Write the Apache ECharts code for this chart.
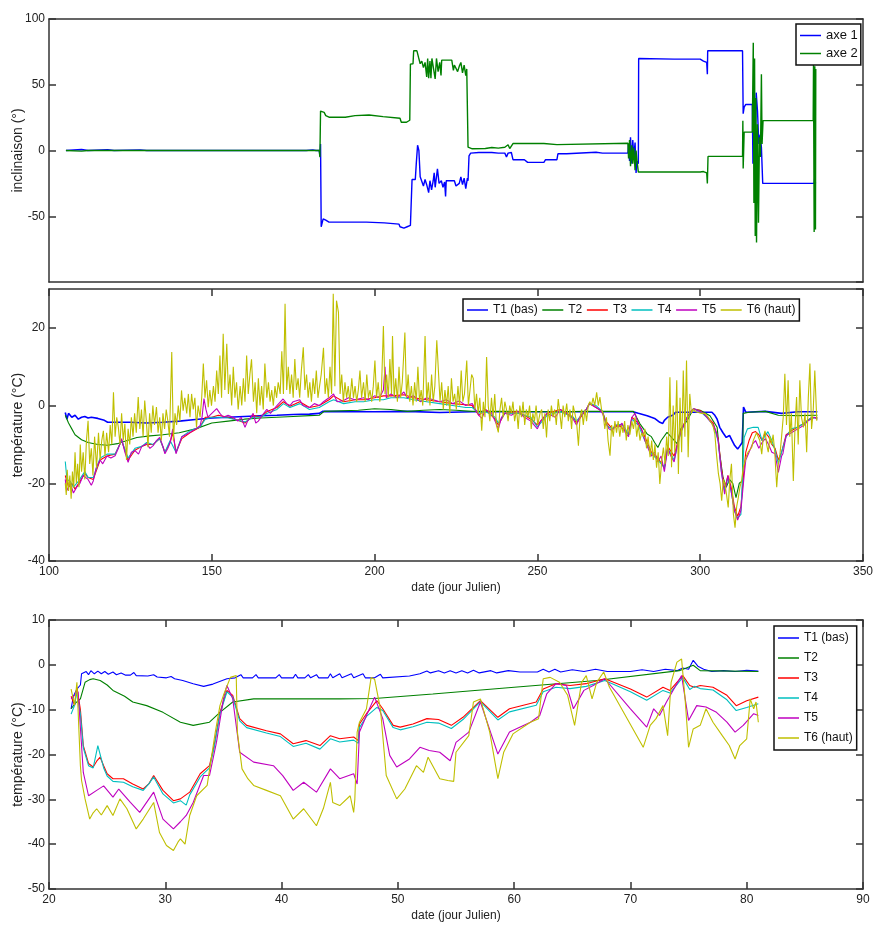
<!DOCTYPE html>
<html><head><meta charset="utf-8">
<script src="https://cdn.jsdelivr.net/npm/echarts@6/dist/echarts.min.js"></script>
<style>html,body{margin:0;padding:0;background:#fff}#c{width:874px;height:927px}</style>
</head><body><div id="c"></div>
<script>
// ---------- Panel 1 : inclinaison ----------
var axe1 = [[105.2,0],[110,0.8],[112,0],[118,0.6],[120,0],[128,0.5],[130,0],[160,0],[178,0],[178.5,0.8],[179,0],[181,0.5],[182,0],[183,0],[183.2,-4],[183.4,5],[183.6,-58],[184.2,-52],[185,-53],[186,-54.5],[197.5,-54.5],[197.6,-55],[203,-55],[203.1,-56],[207.5,-56],[207.8,-58],[209,-59],[210,-58],[211,-57],[211.4,-57],[211.5,-22],[212.5,-22],[212.8,-10],[213.2,4],[213.6,0],[214,-20],[215,-27],[215.5,-22],[216,-26],[216.6,-32],[217,-23],[217.5,-30],[218,-23],[218.3,-17],[218.6,-28],[219.3,-14],[219.8,-25],[220.5,-23],[221,-28],[221.5,-24],[221.8,-35],[222,-23],[224.5,-23],[225,-27],[225.5,-28],[226,-25],[226.5,-20],[227,-26],[227.5,-21],[228,-29],[228.5,-21],[228.7,-23],[229,-4],[229.5,-2],[230,-3],[232,-1.5],[236,-1.5],[238,-2],[240,-2],[240.5,-5],[241,-2],[242,-1.5],[242.5,-7],[246,-7],[247,-9],[252,-9],[252.5,-7],[256,-7],[256.3,-2.5],[259,-2.5],[259.4,-1.3],[268,-1.3],[270,-2],[277.8,-2],[278,5],[278.3,-8],[278.6,10],[279,-10],[279.3,8],[279.6,-5],[280,6],[280.3,-17],[280.6,-8],[281,-10],[281.1,70],[292,69.5],[300,69.5],[301,68],[302,67],[302.2,58],[302.3,75.8],[313,75.8],[313.2,28],[313.5,33],[314,35],[316,35],[316.2,-10],[316.5,-2],[316.8,-11],[317.2,44],[317.6,30],[318,5],[318.4,12],[318.8,2.5],[319.2,-25],[335,-25],[335.2,-20],[335.4,-25]];
var axe2 = [[105.2,0],[110,-0.5],[112,0],[130,0],[178,0],[183,0],[183.2,-5],[183.4,30],[184.5,29],[185,26.5],[186,25.3],[191,25.3],[191.2,26.5],[194,26.5],[194.2,27],[198.3,27],[198.5,25.8],[202.6,25.8],[202.8,24.5],[207.8,24.5],[208.2,21.5],[209.8,21.5],[210,23],[210.8,23],[211,65.7],[211.8,66],[212,75.8],[213,75.8],[213.5,70.8],[214,66],[214.5,68],[215,63],[215.5,67],[216,56],[216.3,70],[216.6,55],[217,68],[217.3,55],[217.6,70],[218,70.7],[218.6,54.5],[219,70],[219.5,60],[220,67],[220.4,57],[220.6,68.7],[223.7,68.7],[224.2,61],[224.5,65],[225,66],[225.5,60],[226,64],[226.5,67],[227,59],[227.5,65],[228,57],[228.3,62],[228.7,2.5],[230,1.3],[234,1.5],[236,2.3],[238,1.8],[240,2.5],[241,4.4],[241.5,1.5],[242.5,5.3],[252,5.3],[252.5,4.5],[256,4.5],[256.5,5.5],[277.8,5.5],[278,-6],[278.3,8],[278.6,-12],[279,4],[279.3,-10],[279.6,2],[280,-15],[280.3,0],[280.6,-8],[281,-16.4],[300,-16.4],[301,-16],[302,-17],[302.2,-25],[302.4,-4.5],[313,-4.5],[313.1,22.7],[313.2,-13.6],[313.5,14],[316,14],[316.3,82],[316.5,-40],[316.7,70],[316.9,-65],[317.1,40],[317.3,-70],[317.6,20],[317.9,-55],[318.2,10],[318.5,-5],[318.8,58],[319,5],[319.3,22.7],[334.7,22.7],[334.8,65],[335,-62],[335.2,64],[335.4,-60],[335.5,62]];

// ---------- Panel 2 : températures (jours 105-336) ----------
var m_T1 = [[105,-1.8],[105.5,-3.5],[106,-2],[107,-3],[108,-2.5],[109,-3.5],[110,-3],[111,-2.8],[112,-3.2],[113,-3],[115,-3.3],[117,-3.8],[118,-4.3],[125,-4.3],[130,-4.5],[135,-4.3],[140,-4],[145,-3.6],[150,-3.2],[155,-3],[160,-2.8],[165,-2.6],[170,-2.5],[175,-2.3],[180,-2.2],[183,-2],[184,-1.5],[200,-1.6],[210,-1.5],[220,-1.8],[230,-1.6],[240,-1.6],[260,-1.6],[270,-1.6],[279.4,-1.6],[281,-2],[283.7,-2.6],[285,-3],[286,-3.3],[287.6,-4.3],[288.5,-4.6],[289,-3.8],[290,-3],[291.7,-2.4],[292.5,-1.7],[303.6,-1.7],[304.5,-2.5],[305.2,-3.5],[306,-5.6],[307,-7],[308,-8.2],[309,-7.7],[309.8,-9],[310.6,-10.3],[311.5,-11.2],[312.1,-10.5],[312.9,-9.5],[313.3,-0.4],[314,-1.7],[320,-1.5],[325,-2],[330,-1.6],[336,-1.6]];
var m_T2 = [[105,-2.5],[106,-4.5],[107,-6],[108,-7.5],[110,-8.8],[112,-9.5],[115,-10],[118,-10.2],[121,-9.8],[124,-9],[127,-8.2],[131,-7.8],[135,-7.5],[140,-7],[145,-6],[150,-4.5],[155,-4],[160,-3.5],[165,-3.2],[170,-3],[175,-2.8],[180,-2.6],[183,-2.5],[184.5,-1.5],[195,-1.2],[200,-0.8],[205,-1],[210,-1.5],[215,-1.2],[220,-1],[225,-1.2],[230,-1.5],[240,-1.5],[255,-1.6],[265,-1.5],[275,-1.5],[279.5,-1.5],[281.5,-4.7],[283.7,-7.3],[285,-8],[286,-9.5],[287,-10.8],[288,-9],[289.8,-6.9],[291,-8],[292.9,-9.8],[294,-6],[296,-3.9],[297.8,-1],[300,-1.2],[303,-2.6],[305.2,-5.6],[306,-12.4],[307,-18.5],[308,-21],[309,-19],[310,-20],[311,-23.7],[312,-20],[313,-19.4],[313.2,-2],[315,-1.7],[320,-1.5],[324,-2.5],[330,-2.6],[336,-2.5]];
var m_T3 = [[105,-18],[106,-21],[107,-20],[108,-21.5],[109.5,-19.5],[111,-17.5],[112,-18.5],[113.6,-19],[115.7,-14],[117.8,-13],[120.3,-12.5],[122.3,-9],[124.3,-14],[126.4,-11.5],[128.5,-10.5],[130,-10],[132,-10],[134,-8.5],[135.6,-12],[137.2,-9.5],[138,-7],[139,-12],[140.8,-8.5],[143.3,-7],[146.4,-5.5],[148,-3],[150,-3],[152,-2.5],[155,-3],[158,-3.8],[160.2,-4.5],[162.7,-2.5],[165,-3],[167,-1.5],[170,-0.5],[172,1],[174,-0.2],[177,1],[180,-0.5],[183,0],[186,1.5],[187.4,2.5],[190.5,1],[194,1.5],[196.6,1.5],[200,2],[202.7,2.5],[205,2.5],[209,2.8],[212,2],[216,1.5],[220,1],[224,0.5],[228,0.2],[230,0],[232,-2.5],[234,-1],[237,-3.5],[238,-5],[240,-2],[244,-1.5],[248,-3.5],[250,-5],[253,-2],[257,-1],[261,-3],[262,-4.5],[265,-1],[266,0.5],[268,-0.5],[270,-1.5],[271,-4],[273,-6],[275,-5],[277,-6.5],[278,-7.5],[279,-3],[281,-4.5],[283,-8],[285,-12],[287,-13.5],[289,-16],[290,-10.5],[292,-13],[294,-6.5],[296,-3],[298,-0.8],[300,-1.3],[302,-2.8],[304,-4.5],[305.5,-8.5],[306.5,-16],[307.5,-21.5],[308.5,-18],[309.5,-21],[310.5,-26],[311.5,-28.5],[312.5,-26],[313.5,-16],[314,-12],[315,-9],[316,-7],[317,-6.7],[318,-7.5],[319,-9],[320,-7],[321,-8],[322,-10],[323,-11],[324,-14],[325,-12],[326.4,-7.5],[328,-6.5],[330,-5.5],[332,-4.5],[334,-3.2],[336,-3]];
var m_T4 = [[105,-14.4],[105.5,-19],[106.5,-19.5],[107.5,-21],[109,-19.5],[111,-17],[112,-18.5],[113.6,-18.5],[115.7,-13.5],[117.8,-12.5],[120.3,-12.5],[122.3,-9],[124.3,-13.5],[126.4,-11],[128.5,-10.5],[130,-9.5],[132,-10],[134,-8.5],[135.6,-12],[137.2,-9],[139,-12],[140.8,-8],[143.3,-6.5],[146.4,-5.5],[148,-3.5],[150,-3],[152,-3],[155,-3.2],[158,-3.8],[160.2,-4.2],[162.7,-3],[165,-3],[167,-2],[170,-1],[172,0.5],[174,-0.5],[177,0.5],[180,-1],[183,-0.5],[186,1],[187.4,1.5],[190.5,0.5],[194,1],[196.6,1],[200,1.5],[202.7,1.5],[205,2],[209,2],[212,1.5],[216,1],[220,0.5],[224,0],[228,-0.5],[230,-0.5],[232,-2],[234,-1.5],[237,-3],[238,-4.5],[240,-2],[244,-2],[248,-3],[250,-5.5],[253,-2.5],[257,-1.5],[261,-3],[262,-4],[265,-1],[266,0.5],[268,0],[270,-1.5],[271,-4.5],[272,-5.6],[273,-6],[274,-5],[276,-4.8],[277,-6],[278,-7.5],[279,-3.5],[281,-5],[283,-9],[285,-12.4],[287,-14],[289,-16],[290,-11],[292,-14],[294,-7],[296,-3],[298,-0.8],[300,-1.5],[302,-3],[304,-5],[305.5,-9],[306.5,-17],[307.5,-22],[308.5,-18.5],[309.5,-22],[310.5,-27],[311.5,-29],[312.5,-28],[313.5,-8.2],[314.5,-6],[316.3,-5.6],[317.8,-5.6],[319,-9],[320.8,-6.7],[322,-9],[323,-11.5],[324,-15],[325,-12],[326.4,-8],[328,-6],[330,-5.5],[332,-4.5],[334,-3.2],[336,-3.2]];
var m_T5 = [[105,-19],[105.4,-22],[106.5,-20],[107.5,-22.5],[108.5,-21],[109.5,-20],[110.5,-18],[111,-17.6],[112,-19],[113,-20.5],[113.6,-19.4],[114.5,-16],[115.7,-14],[116.5,-15],[117.8,-13],[119,-13.5],[120.3,-12.9],[121.3,-11],[122.3,-8.5],[123.3,-12],[124.3,-14.6],[125.3,-12],[126.4,-11.6],[127.5,-12.5],[128.5,-10.5],[130,-9.8],[131,-11],[132,-10.3],[133,-9],[134,-8.2],[135,-10.5],[135.6,-12.4],[136.5,-11],[137.2,-9.5],[138,-6],[139,-12.4],[140,-10],[140.8,-8],[142,-7.5],[143.3,-6.9],[145,-6],[146.4,-5.2],[147,-3],[147.6,1.8],[148.2,-1],[148.8,-3],[150,-2],[151.5,-0.8],[152.5,-2],[153.5,-3],[155,-2.5],[156.5,-3],[158,-4],[159,-3],[160.2,-5.6],[161,-4],[162,-3],[162.7,-2],[163.5,-4.5],[164.3,-4],[165.5,-2.5],[166.9,-1],[168,-2],[170,0],[171.9,1.7],[173,0.5],[174,0],[175,1],[177,1.5],[178,0],[180,-0.5],[181.5,0.5],[183,0],[184.3,1],[186,2],[187.4,3],[188.5,1],[190.5,1.3],[192,2],[194,1.5],[196.6,2],[198,1.5],[200,2.5],[201.5,2],[202.7,4],[203.2,10],[203.6,2],[205,3],[207,2],[209,3.5],[210,2],[212,2.5],[214,1],[216,2],[218,1.5],[220,1],[222,1.5],[224,0.5],[226,1.2],[228,0],[230,0.5],[231,-1],[232,-2.5],[233,-3.3],[234,-1],[236,-2],[237,-4],[238,-6],[239,-3],[240,-2],[242,-2.5],[244,-1.5],[246,-3],[248,-4],[250,-6],[251,-4],[253,-2],[255.5,-3],[257,-1],[259,-2],[261,-3.5],[262,-5],[263,-3],[265,-1],[266,0.5],[267,0],[268,-0.5],[269,-1],[270,-2],[271,-4.5],[272,-6],[273,-6.5],[274,-5],[275,-5.5],[276,-4.5],[277,-7],[278,-8],[279,-3],[280,-2],[281,-5],[282,-6],[283,-9],[284,-11],[285,-13],[286,-12],[287,-14.5],[288,-13],[289,-17],[290,-11],[291,-13],[292,-14.5],[293,-10],[294,-7],[295,-5],[296,-3],[297,-1.5],[298,-0.8],[299,-1.2],[300,-1.5],[301,-2],[302,-3],[303,-4],[304,-5],[305,-7],[305.5,-9],[306.5,-17],[307.5,-22.8],[308.5,-18],[309.5,-22],[310.5,-27],[311.5,-29.5],[312.5,-27],[313.5,-18],[314,-14],[315,-12],[316,-10],[317,-9],[318,-11],[319,-9.5],[320,-8.5],[321,-10],[322,-12],[323,-12.4],[324,-17.2],[325,-13],[325.4,-12.4],[326.4,-7.7],[328,-7],[330,-6],[332,-5],[333,-4],[334,-3.5],[335,-3],[336,-3.5]];
var m_T6 = [[105,-20],[105.3,-23],[105.6,-16.5],[106,-22],[106.4,-18],[106.8,-24],[107.2,-17],[107.6,-21],[108,-12],[108.4,-20],[108.8,-15],[109.2,-21],[109.6,-10],[110,-17],[110.5,-12],[111,-19],[111.5,-9],[112,-3.9],[112.5,-15],[113,-11],[113.5,-18],[114,-8],[114.6,-16],[115.2,-7],[115.7,-14],[116.2,-9],[116.7,-6.5],[117.2,-13],[117.7,-7],[118.3,-12],[118.8,-5],[119.3,-10],[119.8,3.4],[120.3,-8],[120.8,-3],[121.3,-5.6],[121.8,-10],[122.3,-2],[122.8,-9],[123.3,-4.7],[123.8,-14],[124.3,-6],[124.8,-10],[125.3,-3],[125.8,-8],[126.3,-2],[126.8,-7],[127.4,2.2],[127.9,-6],[128.4,-1],[128.9,-8],[129.4,1.3],[129.9,-4],[130.4,-10.7],[130.9,-2],[131.4,-7],[131.9,0],[132.4,-5],[133,-0.4],[133.5,-7],[134,-3],[134.5,-9],[135,-2],[135.5,-6],[136,-1],[136.5,-4],[137,-8],[137.7,13.8],[138.2,-9],[138.7,-2],[139.2,-5],[139.7,0],[140.2,-4],[140.7,3.9],[141.2,-1.3],[141.7,2],[142.3,-2],[142.8,3],[143.3,-3],[143.8,3],[144.3,-1],[144.8,2],[145.3,-5.6],[145.8,0],[146.4,-3],[146.9,2],[147.4,10.8],[147.9,2],[148.4,6.5],[148.9,-0.4],[149.4,4],[149.9,0],[150.5,5],[151,1],[151.5,9],[152,3],[152.5,12.9],[153,2],[153.5,18.5],[154,4],[154.6,15.9],[155.1,3],[155.6,8],[156.1,0],[156.6,10],[157.1,2],[157.6,6],[158.1,-1],[158.7,5],[159.2,0],[159.7,7],[160.2,1],[160.7,12.9],[161.2,3],[161.7,8],[162.2,11.9],[162.8,1],[163.3,6],[163.8,-2],[164.3,7],[164.8,0],[165.3,5],[165.8,-1],[166.3,10.8],[166.9,2],[167.4,6],[167.9,1],[168.4,4],[168.9,0],[169.4,5],[169.9,2],[170.4,6],[171,3],[171.5,14],[172,3],[172.5,26.2],[173,4],[173.5,10],[174,3],[174.5,8],[175,2],[175.5,12],[176,4],[176.5,7],[177,2],[177.5,9],[178.1,15],[178.6,4],[179.1,8],[179.6,2],[180.1,6],[180.6,1],[181.1,7],[181.6,3],[182.1,9],[182.6,2],[183.1,5],[183.6,8],[184.3,14.9],[184.8,3],[185.3,7],[185.8,2],[186.3,10],[186.8,3],[187.3,28.8],[187.8,5],[188.3,27],[188.9,24],[189.4,3],[189.9,8],[190.4,1],[190.9,6],[191.4,2],[191.9,5],[192.4,1],[193,7],[193.5,2],[194,5],[194.5,1],[195,4],[195.5,9],[196,2],[196.6,6],[197.1,1],[197.6,8],[198.1,2],[198.6,4],[199.1,1],[199.6,5],[200.1,11.6],[200.6,2],[201.1,6],[201.6,1],[202.1,4],[202.7,20.5],[203.2,3],[203.7,8],[204.2,2],[204.7,12],[205.2,3],[205.5,17.9],[206,2],[206.5,7],[207,1],[207.5,10],[208,2],[208.5,6],[209.3,18.8],[209.8,2],[210.3,8],[210.8,1],[211.3,5],[211.8,0],[212.3,6],[212.8,1],[213.3,10],[213.8,1],[214.3,4],[214.8,0],[215.5,17.9],[216,1],[216.5,6],[217,0],[217.5,8],[218,1],[218.5,5],[219.1,16.8],[219.6,17],[220.1,1],[220.6,6],[221.1,-1],[221.6,4],[222.1,0],[222.6,5],[223.1,-2],[223.6,7],[224.1,1],[224.6,3],[225.1,-1],[225.6,5],[226.1,0],[226.6,9],[227.1,1],[227.6,3],[228.3,11.6],[228.8,0],[229.3,4],[229.8,8],[230.3,7],[230.8,-1],[231.3,3],[231.8,-2],[232.3,2],[232.9,-6.5],[233.4,1],[233.9,-3],[234.4,12.5],[234.9,0],[235.4,-4],[235.9,2],[236.4,-3],[236.9,3],[237.4,-5],[238,-6.9],[238.5,-1],[239,2],[239.5,-3],[240,1],[240.5,-1],[241,-4],[241.5,0],[242,-2],[242.5,1],[243,-4],[243.6,-1],[244.1,-6],[244.6,0],[245.1,-3],[245.6,1],[246.1,-5],[246.6,-1],[247.1,-3],[247.6,0],[248.1,-6],[248.6,-2],[249.1,-4],[249.6,0],[250.1,-5],[250.8,-2],[251.3,-1],[251.8,-6],[252.3,-2],[252.8,-8.2],[253.3,-1],[253.8,-4],[254.3,0],[254.8,-3],[255.3,-1],[255.8,-5],[256.4,1.7],[256.9,-2],[257.4,-6],[257.9,0],[258.4,-3],[259,0.5],[259.5,-4],[260,-1],[260.5,-6],[261,0],[261.5,-2],[262,-4],[262.6,-10.3],[263.1,-3],[263.6,-1],[264.1,-5],[264.6,-1],[265.1,-4],[265.6,0],[266.1,1],[266.6,0],[267.1,2],[267.6,0],[268.2,3.4],[268.7,0],[269.2,2.2],[269.7,-1],[270.2,-2.2],[270.7,-6],[271.2,-3],[271.7,-9],[272.3,-12.9],[272.8,-5],[273.3,-8],[273.8,-4],[274.3,-7],[274.8,-4],[275.3,-8],[275.8,-5],[276.3,-7],[276.8,-4],[277.3,-9],[277.8,-5],[278.4,-7.5],[279,-4],[279.5,-6],[280,-3],[280.5,-8],[281,-5],[281.5,-9],[282,-7],[282.5,-8],[283,-6],[283.5,-11],[284,-8],[284.6,-13.3],[285.1,-9],[285.6,-14],[286.1,-10],[286.6,-16],[287.1,-12],[287.6,-20.2],[288.2,-14],[288.7,-10.8],[289.2,-15],[289.7,-8],[290.2,-13],[290.7,7.3],[291.2,-15.9],[291.7,0],[292.2,-12],[292.8,6.5],[293.3,-17.6],[293.8,2],[294.3,-12],[294.8,9],[295.3,-8],[295.8,11.6],[296.3,-13.3],[296.8,3],[297.3,-2],[297.9,-0.9],[298.4,-1.5],[298.9,-1.3],[299.4,-1.8],[299.9,-2.2],[300.5,-2],[301,-2.5],[301.5,-2],[302,-2.5],[302.5,-3],[303,-3.9],[303.5,-4.5],[304,-5.5],[304.5,-7.3],[305,-12.5],[305.6,-17.6],[306.1,-20],[306.6,-24.5],[307.1,-19],[307.6,-20.2],[308.1,-23],[308.6,-26.2],[309.1,-19],[309.6,-15],[310.2,-28],[310.7,-31.4],[311.2,-26],[311.7,-23.7],[312.2,-21],[312.7,-19.4],[313.2,-16],[313.7,-14.6],[314.2,-13],[314.7,-12],[315.2,-11.5],[315.8,-10.8],[316.3,-9],[316.8,-8],[317.3,-7],[317.8,-6.5],[318.3,-9],[318.9,-12.5],[319.4,-8],[319.9,-6.5],[320.4,-10],[320.9,-12],[321.4,-8],[321.9,-10],[322.4,-7.5],[322.9,-12],[323.5,-21],[324,-15],[324.5,-12.5],[325,-8],[325.5,-3],[326,8.2],[326.5,-5],[327,6.5],[327.5,-8],[328,-2],[328.6,-19.4],[329.1,-6],[329.6,2.2],[330.1,-10],[330.6,6.5],[331.1,-3],[331.7,-5.6],[332.2,-2],[332.7,-12],[333.2,2],[333.7,10.8],[334.2,-6],[334.7,-1.5],[335.2,9],[335.8,-3.9]];

// ---------- Panel 3 : températures (jours 22-81) ----------
var b_T1 = [[21.9,-9.8],[22.1,-7],[22.4,-5.4],[22.7,-4.5],[22.8,-2],[23.2,-1.5],[23.4,-2.2],[23.6,-1.3],[23.9,-2],[24.2,-1.4],[24.5,-2],[24.8,-1.5],[25.1,-2.1],[25.5,-1.6],[25.8,-2.2],[26.2,-1.8],[26.6,-2.3],[27,-2.3],[27.3,-1.7],[27.5,-2.4],[28.5,-2.5],[29,-2.2],[29.3,-2.7],[30.1,-2.9],[30.5,-2.6],[30.8,-3.1],[31.5,-3.5],[32.4,-4.2],[33.3,-4.8],[34.1,-4.3],[35.3,-3.1],[36,-2.9],[36.5,-2.2],[36.7,-2.9],[37.5,-2.9],[37.8,-2.2],[38,-2.9],[39.5,-2.9],[39.8,-2.2],[40,-2.9],[41,-2.9],[41.2,-2.1],[41.4,-2.9],[42,-2.9],[42.3,-2.2],[42.5,-2.9],[43,-2.2],[43.2,-2.9],[44,-2.9],[44.2,-2],[44.4,-2.9],[45,-2],[45.2,-2.9],[46,-2],[46.2,-2.9],[47,-2],[47.2,-2.9],[48,-2.9],[48.5,-2.1],[48.7,-2.9],[51,-2.5],[51.9,-2],[52.5,-1.4],[52.8,-1.8],[53.5,-1.3],[54,-1.8],[54.5,-1.3],[55,-1.8],[55.5,-1.3],[56,-1.8],[56.5,-1.2],[57,-1.8],[58,-1.3],[58.5,-1.8],[59.5,-1.3],[60.5,-1.6],[62,-1.6],[62.5,-1],[63,-1.6],[63.5,-1],[64,-1.6],[65,-1.1],[66,-1.5],[67,-1],[68,-1.5],[70,-1.5],[71,-1.1],[72,-1.5],[73,-1],[74,-1.3],[74.5,-0.7],[75,-1],[75.4,1],[75.8,-0.3],[76.3,-1],[77,-1.5],[78,-1.3],[79,-1.5],[80,-1.2],[81,-1.4]];
var b_T2 = [[21.9,-9.8],[22.3,-8.5],[22.7,-7.6],[23.1,-3.9],[23.5,-3.3],[23.8,-3.1],[24.4,-3.5],[25,-4.5],[25.5,-5.7],[26.5,-7],[27.2,-8.3],[28.4,-9.1],[29.8,-10.6],[31.3,-12.8],[32.4,-13.5],[33.8,-12.8],[34.7,-10.6],[35.8,-8.3],[37.6,-7.6],[45,-7.6],[48,-7.5],[53,-6.5],[60,-5],[67.1,-3.5],[74.2,-1.3],[75.4,-0.1],[76,-1.3],[81,-1.5]];
var b_T3 = [[21.9,-7],[22.2,-9],[22.4,-5],[22.7,-10],[22.95,-18],[23.4,-22],[23.8,-22.8],[24.1,-21.5],[24.4,-20.6],[24.7,-22.5],[25,-24.3],[25.5,-25.4],[26.4,-25.4],[27.2,-26.6],[28.1,-27.7],[28.6,-26.5],[29,-24.7],[29.8,-28],[30.7,-30.3],[31.3,-29.9],[32.1,-28.4],[33,-24.3],[33.8,-22.5],[34.2,-18],[34.7,-10.6],[35.3,-5.7],[35.8,-6.8],[36.4,-12],[37,-13.5],[38.7,-14.7],[39.9,-15.4],[41,-17.6],[42.1,-16.9],[43.3,-18],[44.2,-15.8],[45,-16.5],[46.2,-16.1],[46.6,-16.9],[46.7,-13.2],[47.3,-10.9],[48.2,-8],[48.7,-9.8],[49.6,-13.5],[50.2,-13.9],[51.3,-13.2],[52.5,-12],[53.5,-12.2],[54.6,-13.5],[55.6,-11.7],[57.1,-8],[58.6,-11.7],[59.6,-9.8],[61.9,-8.3],[62.5,-5.4],[63.6,-4.2],[64.8,-4.6],[66.2,-4.2],[67.8,-3.1],[70,-5.4],[71.4,-7.2],[72.8,-5],[73.4,-5.7],[74.5,-2.4],[75.1,-4.6],[75.5,-5],[76,-4.6],[77.1,-5],[78.3,-6.8],[79.1,-9.1],[80,-8],[81,-7.2]];
var b_T4 = [[21.9,-11],[22.2,-9],[22.4,-6],[22.7,-11],[22.95,-18.5],[23.4,-22.5],[23.8,-23],[24.2,-18],[24.4,-20],[24.7,-23],[25,-24.8],[25.5,-26],[26.4,-26.2],[27.2,-27.2],[28.1,-28],[28.6,-26.5],[29,-25],[29.8,-28.8],[30.7,-30.8],[31.3,-30.3],[31.8,-31.3],[32.1,-29],[33,-25],[33.8,-23],[34.2,-18.5],[34.7,-11],[35.3,-6],[35.8,-7.2],[36.4,-12.5],[37,-14],[38.7,-15.2],[39.9,-16],[41,-18.2],[42.1,-17.5],[43.3,-18.8],[44.2,-16.5],[45,-17.2],[46.2,-16.8],[46.6,-17.5],[46.7,-14],[47.3,-11.5],[48.2,-9.5],[48.7,-10.2],[49.6,-14],[50.2,-14.5],[51.3,-13.8],[52.5,-12.8],[53.5,-13],[54.6,-14.2],[55.6,-12.2],[57.1,-8.2],[58.6,-12.3],[59.6,-10.5],[61.9,-9],[62.5,-6],[63.6,-5],[64.8,-5.3],[66.2,-4.8],[67.8,-3.5],[70,-6],[71.4,-7.9],[72.8,-5.7],[73.4,-6.3],[74.5,-2.8],[75.1,-5.5],[75.5,-4.8],[76,-5.3],[77.1,-5.6],[78.3,-7.8],[79.1,-10.2],[80,-9.5],[81,-8.7]];
var b_T5 = [[21.9,-7.6],[22.5,-6],[22.95,-24],[23.4,-29.2],[24.1,-28],[24.7,-27],[25.5,-29.5],[26,-27.7],[27,-30.7],[27.8,-32.9],[29,-28.4],[29.8,-34.4],[30.7,-36.6],[31.3,-35],[31.8,-33.6],[32.4,-30.7],[33.3,-24.7],[33.8,-24.7],[34.4,-17.3],[35,-7.6],[35.3,-4.6],[35.8,-7.6],[36.4,-19.5],[37.6,-21.7],[39.3,-22.5],[40.1,-24.7],[41,-28],[41.9,-26.2],[43,-28.4],[44.2,-23.2],[45,-25.4],[46.2,-24.3],[46.5,-26.6],[46.7,-15],[47.3,-11.3],[48,-7.2],[48.7,-12],[49.3,-20.2],[49.9,-22.8],[51,-21],[51.9,-18.4],[52.7,-19.1],[53.6,-19.5],[54.5,-21.4],[55,-17.3],[56.1,-15],[57.1,-8.3],[58.6,-19.9],[59.6,-15],[61.4,-12.8],[62.2,-11.3],[62.8,-6.5],[63.6,-4.2],[64.5,-4.6],[65.1,-9.8],[66,-5.7],[66.8,-4.6],[67.8,-3.1],[70,-9.8],[71.4,-13.9],[72,-9.8],[72.5,-11.3],[73.1,-8.3],[74.4,-2.4],[75,-12.4],[75.7,-9.1],[76.5,-9.4],[77.4,-10.6],[78.3,-12.8],[79,-15],[79.7,-13.5],[80.6,-10.9],[81,-11.3]];
var b_T6 = [[21.9,-5.4],[22.2,-9],[22.4,-3.9],[22.7,-22.5],[22.8,-25.8],[23.1,-29.9],[23.5,-34.4],[23.8,-33],[24.1,-32.1],[24.5,-33.5],[25,-31.4],[25.5,-33.6],[26.1,-29.9],[26.7,-32.1],[27.5,-36.6],[28.1,-34.4],[29,-30.7],[29.5,-37.4],[30.1,-40.3],[30.7,-41.4],[31.1,-39.5],[31.3,-38.8],[31.7,-40],[32.1,-33.6],[32.7,-29.2],[33.6,-26.9],[34.3,-15],[34.7,-9.1],[35,-6.8],[35.6,-2.8],[36.1,-2.4],[36.2,-15],[36.6,-23.2],[37.1,-25.4],[37.6,-26.9],[38.7,-28],[39.9,-29.2],[41,-34.4],[41.9,-32.1],[43,-35.9],[43.6,-32],[44.2,-26.2],[44.4,-30.7],[45,-31.4],[45.9,-29.2],[46.2,-32.9],[46.3,-30],[46.5,-15],[46.7,-12.8],[47.3,-9.8],[47.7,-2.8],[48,-3.2],[48.5,-9.8],[49,-24.7],[49.9,-29.9],[50.6,-27.7],[51.6,-22.5],[52.2,-24],[52.6,-20.6],[53.6,-25.4],[54.3,-25.8],[54.8,-26],[55,-19.5],[56.1,-15.8],[56.5,-8.3],[57.1,-7.6],[57.9,-15],[58.6,-25.4],[59.1,-19.5],[59.9,-15.4],[61.4,-12.8],[62.1,-12],[62.5,-3.1],[63.1,-2.8],[63.9,-3.9],[64.6,-6.8],[65.2,-13.5],[65.8,-3.9],[66.2,-2.4],[66.7,-7.6],[67.1,-3.9],[67.7,-1.6],[68.2,-5],[71.1,-18.4],[71.7,-13.5],[72.2,-12],[72.8,-9.1],[73.2,-15.8],[73.5,-3.9],[74,0.6],[74.4,1.3],[74.7,-7.6],[75,-18.4],[75.4,-14.3],[76,-13.5],[76.5,-9.8],[77.1,-12.8],[77.9,-15.8],[78.5,-18],[79,-21],[79.4,-18],[80,-16.5],[80.3,-7.6],[80.6,-9.8],[80.8,-8.3],[81,-12.8]];

var tNames = ['T1 (bas)','T2','T3','T4','T5','T6 (haut)'];
var tColors = ['#0000ff','#008000','#ff0000','#00bfbf','#bf00bf','#bfbf00'];
var incNames = ['axe 1','axe 2'];
var incColors = ['#0000ff','#008000'];

var FONT = 'Liberation Sans, Arial, sans-serif';
var AX = '#333333';
var chart = echarts.init(document.getElementById('c'), null, {renderer:'canvas'});

function xAx(gi, min, max, interval, opts) {
  opts = opts || {};
  var base = {
    type:'value', gridIndex:gi, min:min, max:max, interval:interval,
    axisLine:{show:true, onZero:false, lineStyle:{color:AX, width:1.5}},
    axisTick:{show: !opts.noTick, inside:true, length:7, lineStyle:{color:AX, width:1.5}},
    splitLine:{show:false}
  };
  if (opts.top) { base.position='top'; base.axisLabel={show:false}; }
  else {
    base.position='bottom';
    base.axisLabel = opts.noLabel ? {show:false} : {show:true, margin:5, fontSize:12, color:'#222', fontFamily:FONT};
    if (opts.name) { base.name=opts.name; base.nameLocation='middle'; base.nameGap=21; base.nameMoveOverlap=false; base.nameTextStyle={fontSize:12, color:'#222', fontFamily:FONT}; }
  }
  return base;
}
function yAx(gi, min, max, interval, opts) {
  opts = opts || {};
  var base = {
    type:'value', gridIndex:gi, min:min, max:max, interval:interval,
    axisLine:{show:true, onZero:false, lineStyle:{color:AX, width:1.5}},
    axisTick:{show:true, inside:true, length:7, lineStyle:{color:AX, width:1.5}},
    splitLine:{show:false}
  };
  if (opts.right) { base.position='right'; base.axisLabel={show:false}; }
  else {
    base.position='left';
    base.axisLabel={show:true, margin:4, fontSize:12, color:'#222', fontFamily:FONT, showMinLabel: opts.showMin !== false, showMaxLabel: opts.showMax !== false};
    base.name = opts.name; base.nameLocation='middle'; base.nameGap=24; base.nameMoveOverlap=false;
    base.nameTextStyle={fontSize:14, color:'#222', fontFamily:FONT};
  }
  return base;
}

var series = [];
function addLine(name, data, color, xi, yi, w) {
  series.push({type:'line', name:name, data:data, xAxisIndex:xi, yAxisIndex:yi,
    showSymbol:false, symbol:'none', animation:false,
    lineStyle:{color:color, width:w}, itemStyle:{color:color}});
}
addLine(incNames[0], axe1, incColors[0], 0, 0, 1.4);
addLine(incNames[1], axe2, incColors[1], 0, 0, 1.4);
var mData = [m_T1, m_T2, m_T3, m_T4, m_T5, m_T6];
var bData = [b_T1, b_T2, b_T3, b_T4, b_T5, b_T6];
for (var i=0;i<6;i++) addLine(tNames[i], mData[i], tColors[i], 2, 2, i===0?1.6:1.1);
for (var j=0;j<6;j++) addLine(tNames[j], bData[j], tColors[j], 4, 4, 1.1);

var legendText = {color:'#111', fontFamily:FONT};
var gridBase = {left:49, right:11, containLabel:false, outerBoundsMode:'none'};
chart.setOption({
  animation:false,
  backgroundColor:'#ffffff',
  grid:[
    Object.assign({top:19, height:263}, gridBase),
    Object.assign({top:289, height:272}, gridBase),
    Object.assign({top:620, height:269}, gridBase)
  ],
  xAxis:[
    xAx(0,100,350,50,{noLabel:true, noTick:true}),
    xAx(0,100,350,50,{top:true, noTick:true}),
    xAx(1,100,350,50,{name:'date (jour Julien)'}),
    xAx(1,100,350,50,{top:true}),
    xAx(2,20,90,10,{name:'date (jour Julien)'}),
    xAx(2,20,90,10,{top:true})
  ],
  yAxis:[
    yAx(0,-100,100,50,{name:'inclinaison (°)', showMin:false}),
    yAx(0,-100,100,50,{right:true}),
    yAx(1,-40,30,20,{name:'température (°C)', showMax:false}),
    yAx(1,-40,30,20,{right:true}),
    yAx(2,-50,10,10,{name:'température (°C)'}),
    yAx(2,-50,10,10,{right:true})
  ],
  legend:[
    {data:incNames, orient:'vertical', left:796, top:24, padding:[5,3,5,4], itemGap:5, itemWidth:21, itemHeight:1.5, icon:'rect',
     backgroundColor:'#fff', borderColor:'#111', borderWidth:1.5, borderRadius:0, textStyle:Object.assign({fontSize:13}, legendText), selectedMode:false},
    {data:tNames, orient:'horizontal', left:463, top:299, padding:[5,4,5,4], itemGap:4.6, itemWidth:21, itemHeight:1.5, icon:'rect',
     backgroundColor:'#fff', borderColor:'#111', borderWidth:1.5, borderRadius:0, textStyle:Object.assign({fontSize:12}, legendText), selectedMode:false},
    {data:tNames, orient:'vertical', left:774, top:626, padding:[5,4,5,4], itemGap:6, itemWidth:21, itemHeight:1.5, icon:'rect',
     backgroundColor:'#fff', borderColor:'#111', borderWidth:1.5, borderRadius:0, textStyle:Object.assign({fontSize:12, lineHeight:14}, legendText), selectedMode:false}
  ],
  series:series
});
</script></body></html>
